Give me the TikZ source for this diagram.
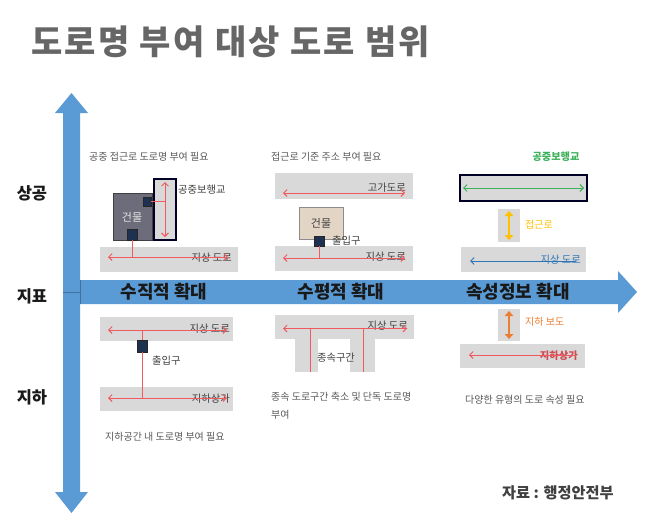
\documentclass[tikz,border=0pt]{standalone}
\usepackage{fontspec}
\setmainfont{Noto Sans CJK KR}
\usetikzlibrary{arrows.meta}
\definecolor{titlegray}{HTML}{666666}
\definecolor{txtgray}{HTML}{595959}
\definecolor{lblgray}{HTML}{404040}
\definecolor{roadgray}{HTML}{D9D9D9}
\definecolor{axisblue}{HTML}{5B9BD5}
\definecolor{axisline}{HTML}{41719C}
\definecolor{myred}{HTML}{F05A5F}
\definecolor{navy}{HTML}{1F3150}
\definecolor{bldgdark}{HTML}{6C6C7A}
\definecolor{bldgbeige}{HTML}{E3D5C6}
\definecolor{mygreen}{HTML}{3BB15A}
\definecolor{myyellow}{HTML}{FFC000}
\definecolor{myorange}{HTML}{ED7D31}
\definecolor{myblue}{HTML}{2E75B6}
\tikzset{
  road/.style={fill=roadgray, draw=none, inner sep=0pt, outer sep=0pt, anchor=north west},
  sqbox/.style={fill=navy, draw=black!85, line width=0.4pt, inner sep=0pt, outer sep=0pt, anchor=north west},
  bridgebox/.style={fill=roadgray, draw=black!85!blue, line width=1.6pt, inner sep=0pt, outer sep=0pt, anchor=north west},
  redarr/.style={draw=myred, line width=0.9pt, {Straight Barb[length=3.5pt,width=7pt]}-{Straight Barb[length=3.5pt,width=7pt]}},
  redline/.style={draw=myred, line width=0.9pt},
  thickarr/.style={line width=2.6pt, {Triangle[length=5pt,width=8.5pt]}-{Triangle[length=5pt,width=8.5pt]}},
  small/.style={font=\fontsize{10}{12}\selectfont, text=txtgray, inner sep=0pt},
  lbl/.style={font=\fontsize{10.3}{12}\selectfont, text=lblgray, inner sep=0pt},
  side/.style={font=\fontsize{16.5}{19}\selectfont\bfseries, text=black!90, inner sep=0pt},
  axislbl/.style={font=\fontsize{18}{21}\selectfont\bfseries, text=black!90, inner sep=0pt},
}
\newcommand\bx[6]{\node[#6, minimum width=#4, minimum height=#5] (#1) at (#2,#3) {};}
\begin{document}
\begin{tikzpicture}[x=1pt,y=-1pt]
\path[fill=white] (0,0) rectangle (658,520);
\useasboundingbox (0,0) rectangle (658,520);

% title
\node[anchor=west, inner sep=0pt, text=titlegray, font=\fontsize{34}{38}\selectfont\bfseries\addfontfeatures{LetterSpace=7}] (title) at (31,42) {도로명 부여 대상 도로 범위};

% axes
\fill[axisblue] (71.5,93) -- (88,113) -- (80,113) -- (80,492) -- (88,492) -- (71.5,513) -- (55,492) -- (63,492) -- (63,113) -- (55,113) -- cycle;
\fill[axisblue] (80,280) -- (618,280) -- (618,271) -- (637,292) -- (618,313) -- (618,304) -- (80,304) -- cycle;
\draw[axisline, line width=0.5pt] (80,280) -- (80,304);
\draw[axisline, line width=0.5pt] (63,292) -- (80,292);

\node[side] (s1) at (32,193) {상공};
\node[side] (s2) at (32,296) {지표};
\node[side] (s3) at (32,397) {지하};

\node[axislbl] (a1) at (164,292) {수직적 확대};
\node[axislbl] (a2) at (341,292) {수평적 확대};
\node[axislbl] (a3) at (518,292) {속성정보 확대};

% ---------- Panel 1 ----------
\node[small, anchor=west] (t1) at (89,157) {공중 접근로 도로명 부여 필요};
\bx{road1}{100}{247}{138}{25}{road}
\node[lbl, anchor=east] (r1l) at ([xshift=-6pt,yshift=1.5pt]road1.east) {지상 도로};
\coordinate (r1y) at ([yshift=2.5pt]road1.center);
\draw[redarr] ([xshift=8pt,yshift=2.5pt]road1.west) -- ([xshift=-10pt,yshift=2.5pt]road1.east);
\bx{bldg1}{113}{193}{39}{47}{road, fill=bldgdark, draw=black!75, line width=1pt}
\node[font=\fontsize{11}{13}\selectfont, text=white!90!black, inner sep=0pt] (b1t) at (132,217) {건물};
\bx{bridge1}{154}{179}{22}{61}{bridgebox}
\bx{sq1a}{143}{197}{8}{9}{sqbox}
\bx{sq1b}{127}{229}{10}{11}{sqbox}
\draw[redarr] ([yshift=-3pt]bridge1.north) -- ([yshift=3pt]bridge1.south);
\draw[redline] (sq1a.east) -- (sq1a.east -| bridge1.center);
\draw[redline] (sq1b.south) -- (sq1b.south |- r1y);
\node[lbl, anchor=west] (p1l) at (178,190) {공중보행교};

% ---------- Panel 2 ----------
\node[small, anchor=west] (t2) at (271,157) {접근로 기준 주소 부여 필요};
\bx{elev2}{275}{173}{138}{26}{road}
\node[lbl, anchor=east] (e2l) at ([xshift=-7pt,yshift=-2pt]elev2.east) {고가도로};
\draw[redarr] ([xshift=8pt,yshift=-7pt]elev2.west) -- ([xshift=-8pt,yshift=-7pt]elev2.east);
\bx{bldg2}{299}{207}{44}{32}{road, fill=bldgbeige, draw=black!45, line width=1pt}
\node[font=\fontsize{11}{13}\selectfont, text=lblgray, inner sep=0pt] (b2t) at (321,223) {건물};
\bx{road2}{275}{246}{138}{25}{road}
\node[lbl, anchor=east] (r2l) at ([xshift=-7pt,yshift=1.5pt]road2.east) {지상 도로};
\coordinate (r2y) at ([yshift=0.5pt]road2.center);
\draw[redarr] ([xshift=8pt,yshift=0.5pt]road2.west) -- ([xshift=-8pt,yshift=0.5pt]road2.east);
\bx{sq2}{314}{236}{10}{10}{sqbox}
\draw[redline] (sq2.south) -- (sq2.south |- r2y);
\node[lbl, anchor=west] (g2l) at (332,241) {출입구};

% ---------- Panel 3 ----------
\node[font=\fontsize{10.2}{12}\selectfont\bfseries, text=mygreen, inner sep=0pt] (t3) at (556,157) {공중보행교};
\bx{bridge3}{460}{175}{127}{26}{bridgebox}
\draw[draw=mygreen, line width=0.9pt, {Straight Barb[length=3.5pt,width=7pt]}-{Straight Barb[length=3.5pt,width=7pt]}] ([xshift=3pt]bridge3.west) -- ([xshift=-3pt]bridge3.east);
\bx{acc3}{498}{209}{22}{33}{road}
\draw[thickarr, draw=myyellow, fill=myyellow] ([yshift=-2pt]acc3.north) -- ([yshift=2pt]acc3.south);
\node[font=\fontsize{10}{12}\selectfont, text=myyellow, inner sep=0pt, anchor=west] (a3l) at (525,225) {접근로};
\bx{road3}{461}{247}{125}{25}{road}
\node[font=\fontsize{10.3}{12}\selectfont, text=myblue, inner sep=0pt, anchor=east] (r3l) at ([xshift=-5pt,yshift=0pt]road3.east) {지상 도로};
\draw[draw=myblue, line width=0.9pt, {Straight Barb[length=3.5pt,width=7pt]}-] ([xshift=9pt,yshift=-1.5pt]road3.west) -- ([xshift=-10pt,yshift=-1.5pt]road3.east);

% ---------- Panel 4 ----------
\bx{road4}{100}{317}{133}{24}{road}
\bx{mall4}{100}{387}{133}{24}{road}
\coordinate (r4y) at ([yshift=-1pt]road4.center);
\coordinate (m4y) at ([yshift=1pt]mall4.center);
\node[lbl, anchor=east] (r4l) at ([xshift=-3pt]road4.east) {지상 도로};
\node[lbl, anchor=east] (m4l) at ([xshift=-3pt]mall4.east) {지하상가};
\draw[redarr] ([xshift=8pt,yshift=-1pt]road4.west) -- ([xshift=-6pt,yshift=-1pt]road4.east);
\draw[redarr] ([xshift=8pt,yshift=1pt]mall4.west) -- ([xshift=-6pt,yshift=1pt]mall4.east);
\bx{sq4}{137}{340}{10}{12}{sqbox}
\draw[redline] (sq4.center |- r4y) -- (sq4.north);
\draw[redline] (sq4.south) -- (sq4.center |- m4y);
\node[lbl, anchor=west] (g4l) at (152,361) {출입구};
\node[small, anchor=west] (t4) at (105,437) {지하공간 내 도로명 부여 필요};

% ---------- Panel 5 ----------
\bx{top5}{275}{315}{139}{24}{road}
\bx{legL}{295}{338}{23}{34}{road}
\bx{legR}{350}{338}{25}{34}{road}
\coordinate (r5y) at ([yshift=-1.5pt]top5.center);
\node[lbl, anchor=east] (r5l) at ([xshift=-6pt,yshift=1pt]top5.east) {지상 도로};
\draw[redarr] ([xshift=8pt,yshift=-1.5pt]top5.west) -- ([xshift=-7pt,yshift=-1.5pt]top5.east);
\coordinate (p5L) at (310,372);
\coordinate (p5R) at (363,372);
\draw[redline] (p5L |- r5y) -- (p5L);
\draw[redline] (p5R |- r5y) -- (p5R);
\node[lbl] (k5) at (336,358) {종속구간};
\node[small, anchor=north west, align=left, font=\fontsize{10}{18}\selectfont] (t5) at (271,392) {종속 도로구간 축소 및 단독 도로명\\부여};

% ---------- Panel 6 ----------
\bx{sub6}{498}{309}{22}{32}{road}
\draw[thickarr, draw=myorange, fill=myorange] ([yshift=-2pt]sub6.north) -- ([yshift=2pt]sub6.south);
\node[font=\fontsize{10}{12}\selectfont, text=myorange, inner sep=0pt, anchor=west] (s6l) at (525,322) {지하 보도};
\bx{mall6}{460}{344}{125}{24}{road}
\node[font=\fontsize{10.3}{12}\selectfont\bfseries, text=myred!85!black, inner sep=0pt, anchor=east] (m6l) at ([xshift=-7pt]mall6.east) {지하상가};
\draw[draw=myred, line width=0.9pt, {Straight Barb[length=3.5pt,width=7pt]}-] ([xshift=9pt,yshift=1pt]mall6.west) -- ([xshift=-9pt,yshift=1pt]mall6.east);
\node[small, anchor=west] (t6) at (465,400) {다양한 유형의 도로 속성 필요};

% source
\node[anchor=west, inner sep=0pt, text=lblgray, font=\fontsize{15.2}{18}\selectfont\bfseries] (src) at (502,493) {자료 : 행정안전부};
\end{tikzpicture}
\end{document}
